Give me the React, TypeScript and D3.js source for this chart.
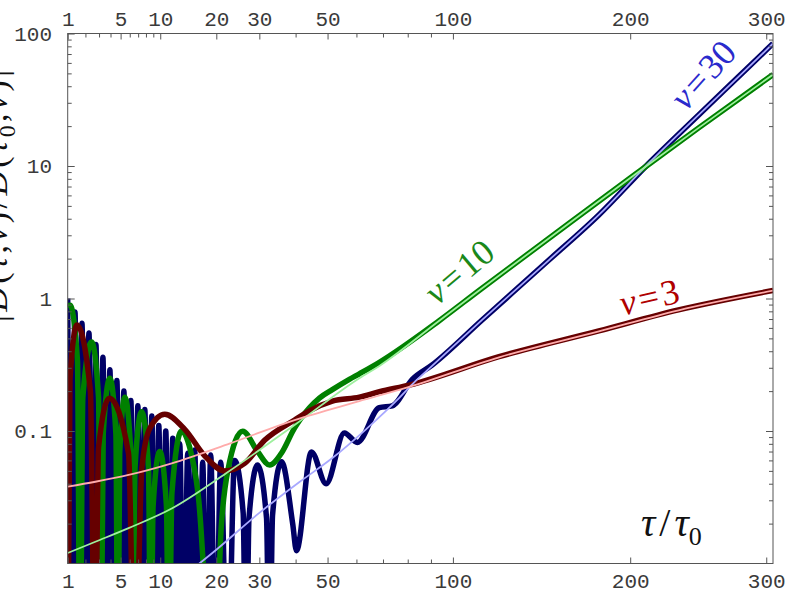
import React, { useEffect, useRef } from 'react';
import * as d3 from 'd3';

// value used where a curve touches zero (falls far below the 0.01 floor)
const Z = 1e-3;

// nu = 30 : oscillating solution [tau/tau0, |D/D0|]
const nu30Curve: [number, number][] = [
  [1, 1.0],
  [1.177, Z], [1.369, 0.79],
  [1.567, Z], [1.778, 0.65],
  [2.002, Z], [2.24, 0.55],
  [2.49, Z], [2.755, 0.45],
  [3.032, Z], [3.323, 0.36],
  [3.627, Z], [3.944, 0.29],
  [4.275, Z], [4.619, 0.24],
  [4.977, Z], [5.347, 0.2],
  [5.731, Z], [6.128, 0.17],
  [6.539, Z], [6.963, 0.155],
  [7.4, Z], [7.851, 0.145],
  [8.314, Z], [8.791, 0.13],
  [9.282, Z], [9.786, 0.11],
  [10.303, Z], [10.833, 0.1],
  [11.377, Z], [11.934, 0.088],
  [12.504, Z], [13.088, 0.08],
  [13.772, Z], [14.472, 0.068],
  [15.1, Z], [15.74, 0.072],
  [16.489, Z], [17.254, 0.058],
  [18.038, Z], [18.838, 0.066],
  [19.864, Z], [20.916, 0.058],
  [22.435, Z], [24.008, 0.06], [26.01, 0.024],
  [26.706, Z], [27.41, 0.022], [29.549, 0.0553], [31.87, 0.022],
  [32.668, Z], [33.47, 0.023], [35.944, 0.0586], [39.14, 0.02],
  [40.259, 0.0125], [44.818, 0.0695],
  [49.524, 0.04], [55.71, 0.0965],
  [60.325, 0.082], [68.56, 0.15],
  [73.664, 0.155], [81.9, 0.245],
  [90.5, 0.315], [114.1, 0.689], [149.9, 1.95], [179.8, 4.27],
  [212.5, 10.5], [247.8, 24.3], [285.9, 55.8], [305.5, 84],
];
const nu30Asymptote: [number, number][] = [
  [14, 0.0082], [20, 0.0127], [30, 0.0241], [41.15, 0.0412], [51.6, 0.0625],
  [63.5, 0.103], [76.5, 0.178], [81.9, 0.225], [90.5, 0.31], [114.1, 0.689],
  [149.9, 1.95], [179.8, 4.27], [212.5, 10.5], [247.8, 24.3], [285.9, 55.8], [305.5, 84],
];

// nu = 10
const nu10Curve: [number, number][] = [
  [1, 0.86], [1.11, 0.89], [1.509, 0.34], [1.656, Z],
  [1.834, 0.18], [2.43, 0.47], [2.96, 0.18], [3.15, Z],
  [3.35, 0.095], [3.94, 0.25], [4.52, 0.095], [4.72, Z],
  [4.904, 0.068], [5.45, 0.18], [6.128, 0.068], [6.36, Z],
  [6.62, 0.053], [7.43, 0.14], [8.34, 0.053], [8.65, Z],
  [8.97, 0.027], [9.93, 0.07], [10.94, 0.027], [11.3, Z],
  [11.8, 0.034], [13.4, 0.1], [14.83, 0.075], [16.36, 0.034], [19.45, Z],
  [21.07, 0.0195], [22.5, 0.0508], [25.9, 0.0995], [29.6, 0.0696],
  [32.7, 0.0553], [35.86, 0.0676], [39.67, 0.105], [41.15, 0.12],
  [47.35, 0.177], [51.6, 0.205], [57.46, 0.245], [61.06, 0.27], [68.6, 0.33],
  [93.7, 0.68], [112.6, 1.15], [163.3, 3.83], [203.6, 8.7], [247.8, 19.4], [305.5, 49],
];
const nu10Asymptote: [number, number][] = [
  [1, 0.012], [2.71, 0.0146], [5.87, 0.0185], [11.77, 0.026], [22.1, 0.048],
  [39.7, 0.111], [61.06, 0.25], [68.6, 0.31], [93.7, 0.68], [112.6, 1.15],
  [163.3, 3.83], [203.6, 8.7], [247.8, 19.4], [305.5, 49],
];

// nu = 3
const nu3Curve: [number, number][] = [
  [1, Z], [1.11, 0.25], [1.48, 0.63], [2.34, 0.2], [2.68, Z],
  [2.96, 0.075], [3.88, 0.177], [5.86, 0.068], [6.6, Z],
  [7.46, 0.052], [8.52, 0.105], [10.68, 0.134], [13.95, 0.103], [17.64, 0.065],
  [21.8, 0.05], [26.35, 0.057], [31.35, 0.085], [39.7, 0.121], [44.2, 0.142],
  [51.6, 0.168], [61.06, 0.18], [68.6, 0.198], [80.6, 0.222], [122.7, 0.364],
  [179.8, 0.57], [233.2, 0.82], [305.5, 1.15],
];
const nu3Asymptote: [number, number][] = [
  [1, 0.038], [2.71, 0.0414], [5.87, 0.0466], [11.77, 0.057], [23, 0.0807],
  [39.7, 0.121], [61.06, 0.168], [80.6, 0.215], [122.7, 0.36], [179.8, 0.565],
  [233.2, 0.815], [305.5, 1.145],
];

const xMajorTicks = [1, 5, 10, 20, 30, 50, 100, 200, 300];
const xMinorTicks = [2, 3, 4, 6, 7, 8, 9, 40, 60, 70, 80, 90];
const yMajorTicks = [0.1, 1, 10, 100];
const yTickLabels = ['0.1', '1', '10', '100'];
const yMinorTicks = [0.01, 0.1, 1, 10].flatMap((d) => [2, 3, 4, 5, 6, 7, 8, 9].map((k) => +(d * k).toPrecision(3)));

const W = 789;
const H = 599;

export default function App() {
  const svgRef = useRef<SVGSVGElement>(null);

  useEffect(() => {
    if (!svgRef.current) return;
    const svg = d3.select(svgRef.current);
    svg.selectAll('*').remove();

    const margin = { top: 33.5, right: 16, bottom: 35.5, left: 67.7 };
    const x = d3.scaleSqrt().domain([1, 305.5]).range([margin.left, W - margin.right]);
    const y = d3.scaleLog().domain([0.01, 100]).range([H - margin.bottom, margin.top]);
    const x0 = margin.left, x1 = W - margin.right, y0 = margin.top, y1 = H - margin.bottom;

    svg.append('defs').append('clipPath').attr('id', 'plot-clip')
      .append('rect').attr('x', x0).attr('y', y0).attr('width', x1 - x0).attr('height', y1 - y0);

    const line = d3.line<[number, number]>()
      .x((d) => x(d[0]))
      .y((d) => y(d[1]))
      .curve(d3.curveMonotoneX);

    const plot = svg.append('g').attr('clip-path', 'url(#plot-clip)');

    const thick = [
      { data: nu30Curve, color: '#000066' },
      { data: nu10Curve, color: '#008000' },
      { data: nu3Curve, color: '#660000' },
    ];
    const thin = [
      { data: nu30Asymptote, color: '#a8a8ff' },
      { data: nu10Asymptote, color: '#9ef09e' },
      { data: nu3Asymptote, color: '#ffabab' },
    ];
    thick.forEach((s) => {
      plot.append('path').attr('d', line(s.data)).attr('fill', 'none')
        .attr('stroke', s.color).attr('stroke-width', 5.5).attr('stroke-linejoin', 'round');
    });
    thin.forEach((s) => {
      plot.append('path').attr('d', line(s.data)).attr('fill', 'none')
        .attr('stroke', s.color).attr('stroke-width', 1.8);
    });

    // axes: ticks point inward
    const axisColor = '#555';
    const styleAxis = (g: any) => {
      g.select('.domain').remove();
      g.selectAll('line').attr('stroke', axisColor);
      g.attr('font-family', '"Liberation Mono", "DejaVu Sans Mono", monospace')
        .attr('font-size', 21);
      g.selectAll('text').attr('fill', '#3a3a3a');
    };

    svg.append('g').attr('transform', `translate(0,${y1})`)
      .call(d3.axisBottom(x).tickValues(xMajorTicks).tickFormat(d3.format('d')).tickSizeInner(-6).tickSizeOuter(0).tickPadding(9.6))
      .call(styleAxis);
    svg.append('g').attr('transform', `translate(0,${y1})`)
      .call(d3.axisBottom(x).tickValues(xMinorTicks).tickFormat(() => '').tickSizeInner(-4).tickSizeOuter(0))
      .call(styleAxis);
    svg.append('g').attr('transform', `translate(0,${y0})`)
      .call(d3.axisTop(x).tickValues(xMajorTicks).tickFormat(d3.format('d')).tickSizeInner(-6).tickSizeOuter(0).tickPadding(7.5))
      .call(styleAxis);
    svg.append('g').attr('transform', `translate(0,${y0})`)
      .call(d3.axisTop(x).tickValues(xMinorTicks).tickFormat(() => '').tickSizeInner(-4).tickSizeOuter(0))
      .call(styleAxis);
    svg.append('g').attr('transform', `translate(${x0},0)`)
      .call(d3.axisLeft(y).tickValues(yMajorTicks).tickFormat((d, i) => yTickLabels[i]).tickSizeInner(-7).tickSizeOuter(0).tickPadding(15.7))
      .call(styleAxis);
    svg.append('g').attr('transform', `translate(${x0},0)`)
      .call(d3.axisLeft(y).tickValues(yMinorTicks).tickFormat(() => '').tickSizeInner(-4).tickSizeOuter(0))
      .call(styleAxis);
    svg.append('g').attr('transform', `translate(${x1},0)`)
      .call(d3.axisRight(y).tickValues(yMajorTicks).tickFormat(() => '').tickSizeInner(-7).tickSizeOuter(0))
      .call(styleAxis);
    svg.append('g').attr('transform', `translate(${x1},0)`)
      .call(d3.axisRight(y).tickValues(yMinorTicks).tickFormat(() => '').tickSizeInner(-4).tickSizeOuter(0))
      .call(styleAxis);

    svg.append('rect').attr('x', x0).attr('y', y0).attr('width', x1 - x0).attr('height', y1 - y0)
      .attr('fill', 'none').attr('stroke', axisColor).attr('stroke-width', 1);

    const serif = '"Liberation Serif", "DejaVu Serif", serif';

    // curve labels
    const labels = [
      { text: '30', color: '#2a2acc', cx: 712, cy: 83, angle: -48 },
      { text: '10', color: '#1a881a', cx: 467, cy: 281, angle: -40 },
      { text: '3', color: '#b00000', cx: 652, cy: 309, angle: -13 },
    ];
    labels.forEach((l) => {
      const t = svg.append('text')
        .attr('transform', `translate(${l.cx},${l.cy}) rotate(${l.angle})`)
        .attr('text-anchor', 'middle').attr('font-family', serif).attr('font-size', 36)
        .attr('fill', l.color);
      t.append('tspan').attr('font-style', 'italic').text('ν');
      t.append('tspan').attr('dx', 3).text('=');
      t.append('tspan').attr('dx', 3).text(l.text);
    });

    // x label
    const xl = svg.append('text').attr('x', 641).attr('y', 536)
      .attr('font-family', serif).attr('font-size', 40).attr('fill', '#111');
    xl.append('tspan').attr('font-style', 'italic').text('τ');
    xl.append('tspan').attr('dx', 4).text('/');
    xl.append('tspan').attr('dx', 4).attr('font-style', 'italic').text('τ');
    xl.append('tspan').attr('font-size', 26).attr('dy', 9).text('0');

    // y label (partly cut by the left edge, as in the original)
    const yl = svg.append('text').attr('transform', 'translate(7,322) rotate(-90)')
      .attr('font-family', serif).attr('font-size', 34).attr('fill', '#111')
      .attr('textLength', 252).attr('lengthAdjust', 'spacing');
    yl.append('tspan').text('|');
    yl.append('tspan').attr('font-style', 'italic').text('D');
    yl.append('tspan').text('(');
    yl.append('tspan').attr('font-style', 'italic').text('τ');
    yl.append('tspan').text(',');
    yl.append('tspan').attr('font-style', 'italic').text('ν');
    yl.append('tspan').text(')/');
    yl.append('tspan').attr('font-style', 'italic').text('D');
    yl.append('tspan').text('(');
    yl.append('tspan').attr('font-style', 'italic').text('τ');
    yl.append('tspan').attr('font-size', 24).attr('dy', 8).text('0');
    yl.append('tspan').attr('dy', -8).text(',');
    yl.append('tspan').attr('font-style', 'italic').text('ν');
    yl.append('tspan').text(')|');
  }, []);

  return (
    <div style={{ position: 'absolute', left: 0, top: 0, background: '#fff' }}>
      <svg ref={svgRef} width={W} height={H} style={{ display: 'block' }} />
    </div>
  );
}
